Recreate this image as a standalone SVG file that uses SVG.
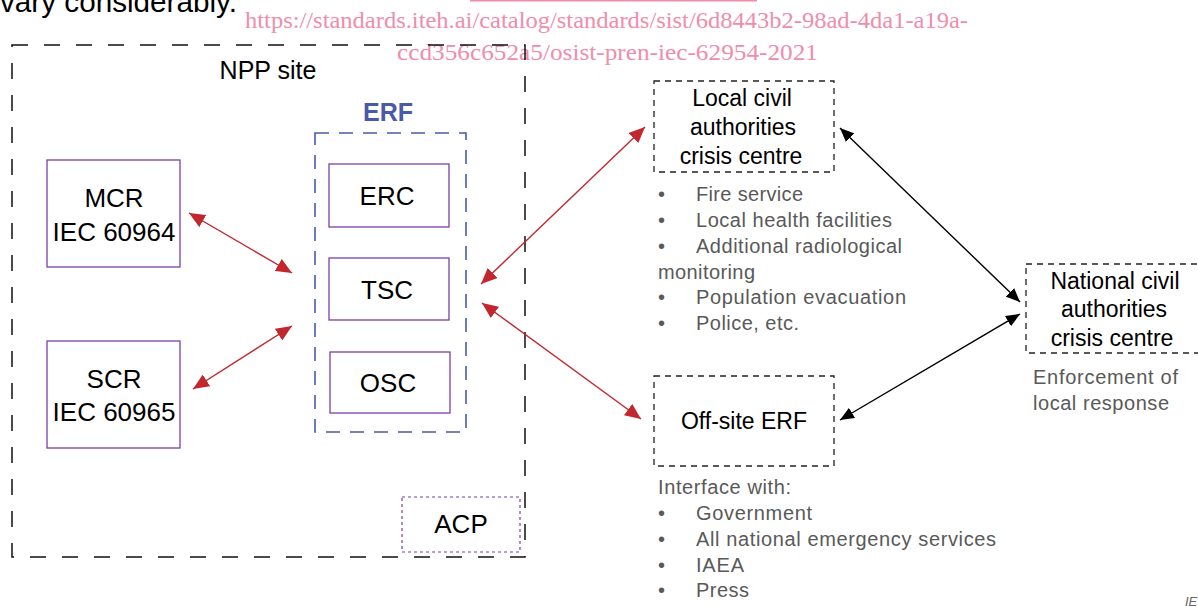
<svg xmlns="http://www.w3.org/2000/svg" width="1198" height="607" viewBox="0 0 1198 607">
<style>
.t{font-family:"Liberation Sans",Arial,sans-serif;fill:#000}
.n{font-size:26px;text-anchor:middle}
.m{font-size:23px;text-anchor:middle}
.g{font-family:"Liberation Sans",Arial,sans-serif;font-size:20px;fill:#595959}
.pk{font-family:"Liberation Serif","Times New Roman",serif;font-size:24px;fill:#ef8dab}
.box{fill:#fff;stroke:#7b3fa8;stroke-width:1.3}
.dash{fill:none;stroke:#222;stroke-width:1.3;stroke-dasharray:6 5}
.red{stroke:#c1272d;stroke-width:1.4;fill:none;marker-start:url(#ar);marker-end:url(#ar)}
.blk{stroke:#000;stroke-width:1.4;fill:none;marker-start:url(#ab);marker-end:url(#ab)}
</style>
<defs>
<marker id="ar" viewBox="0 0 16 14" refX="16" refY="7" markerWidth="16" markerHeight="14" markerUnits="userSpaceOnUse" orient="auto-start-reverse"><path d="M0,0 L16,7 L0,14 z" fill="#c1272d"/></marker>
<marker id="ab" viewBox="0 0 14 12" refX="14" refY="6" markerWidth="14" markerHeight="12" markerUnits="userSpaceOnUse" orient="auto-start-reverse"><path d="M0,0 L14,6 L0,12 z" fill="#000"/></marker>
</defs>
<rect width="1198" height="607" fill="#fff"/>
<text class="t" x="0" y="12" font-size="29" textLength="237" lengthAdjust="spacingAndGlyphs">vary considerably.</text>
<line x1="470" y1="0.8" x2="757" y2="0.8" stroke="#ef8dab" stroke-width="1.6"/>
<text class="pk" x="245" y="28" textLength="723" lengthAdjust="spacingAndGlyphs">https://standards.iteh.ai/catalog/standards/sist/6d8443b2-98ad-4da1-a19a-</text>
<text class="pk" x="397" y="60" textLength="421" lengthAdjust="spacingAndGlyphs">ccd356c652a5/osist-pren-iec-62954-2021</text>

<g id="npp">
<path d="M12,45 H525 V557 H12 Z" fill="none" stroke="#111" stroke-width="1.5" stroke-dasharray="16 16"/>
<text class="t" x="268" y="79" font-size="25" text-anchor="middle">NPP site</text>
</g>
<g id="erf">
<rect x="315" y="133" width="151" height="299" fill="none" stroke="#4a5aa8" stroke-width="1.6" stroke-dasharray="14 10"/>
<text x="388" y="121" font-family="Liberation Sans, Arial, sans-serif" font-size="25" font-weight="bold" fill="#4a5aa8" text-anchor="middle">ERF</text>
</g>
<g id="erc"><rect class="box" x="329" y="164" width="120" height="63"/><text class="t n" x="387" y="205">ERC</text></g>
<g id="tsc"><rect class="box" x="329" y="258" width="120" height="62"/><text class="t n" x="387" y="299">TSC</text></g>
<g id="osc"><rect class="box" x="330" y="352" width="120" height="61"/><text class="t n" x="388" y="392">OSC</text></g>
<g id="mcr"><rect class="box" x="47" y="160" width="133" height="107"/><text class="t n" x="114" y="207">MCR</text><text class="t n" x="114" y="241">IEC 60964</text></g>
<g id="scr"><rect class="box" x="47" y="341" width="133" height="107"/><text class="t n" x="114" y="388">SCR</text><text class="t n" x="114" y="421">IEC 60965</text></g>
<g id="acp"><rect x="402" y="497" width="118" height="55" fill="none" stroke="#7b3fa8" stroke-width="1.2" stroke-dasharray="3 3"/><text class="t n" x="461" y="533">ACP</text></g>

<g id="local">
<rect class="dash" x="654" y="81" width="180" height="91"/>
<text class="t m" x="742" y="106">Local civil</text>
<text class="t m" x="743" y="135">authorities</text>
<text class="t m" x="741" y="164">crisis centre</text>
</g>
<g id="localList" class="g">
<text x="658" y="201">•</text><text x="696" y="201" textLength="107">Fire service</text>
<text x="658" y="227">•</text><text x="696" y="227" textLength="196">Local health facilities</text>
<text x="658" y="253">•</text><text x="696" y="253" textLength="206">Additional radiological</text>
<text x="658" y="279" textLength="97">monitoring</text>
<text x="658" y="304">•</text><text x="696" y="304" textLength="210">Population evacuation</text>
<text x="658" y="330">•</text><text x="696" y="330" textLength="103">Police, etc.</text>
</g>
<g id="offsite">
<rect class="dash" x="654" y="376" width="180" height="90"/>
<text class="t m" x="744" y="429">Off-site ERF</text>
</g>
<g id="offList" class="g">
<text x="658" y="494" textLength="133">Interface with:</text>
<text x="658" y="520">•</text><text x="696" y="520" textLength="116">Government</text>
<text x="658" y="546">•</text><text x="696" y="546" textLength="300">All national emergency services</text>
<text x="658" y="572">•</text><text x="696" y="572" textLength="48">IAEA</text>
<text x="658" y="597">•</text><text x="696" y="597" textLength="53">Press</text>
</g>
<g id="national">
<rect class="dash" x="1026" y="264" width="180" height="89"/>
<text class="t m" x="1115" y="289">National civil</text>
<text class="t m" x="1114" y="317">authorities</text>
<text class="t m" x="1112" y="346">crisis centre</text>
<text class="g" x="1033" y="384" textLength="145">Enforcement of</text>
<text class="g" x="1033" y="410" textLength="136">local response</text>
</g>
<text x="1185" y="606" font-family="Liberation Sans, Arial, sans-serif" font-size="13" font-style="italic" fill="#666">IE</text>

<g id="connectors">
<line class="red" x1="189" y1="213" x2="292" y2="273"/>
<line class="red" x1="193" y1="389" x2="292" y2="326"/>
<line class="red" x1="481" y1="284" x2="645" y2="127"/>
<line class="red" x1="482" y1="303" x2="641" y2="419"/>
<line class="blk" x1="840" y1="128" x2="1020" y2="302"/>
<line class="blk" x1="840" y1="420" x2="1020" y2="314"/>
</g>
</svg>
